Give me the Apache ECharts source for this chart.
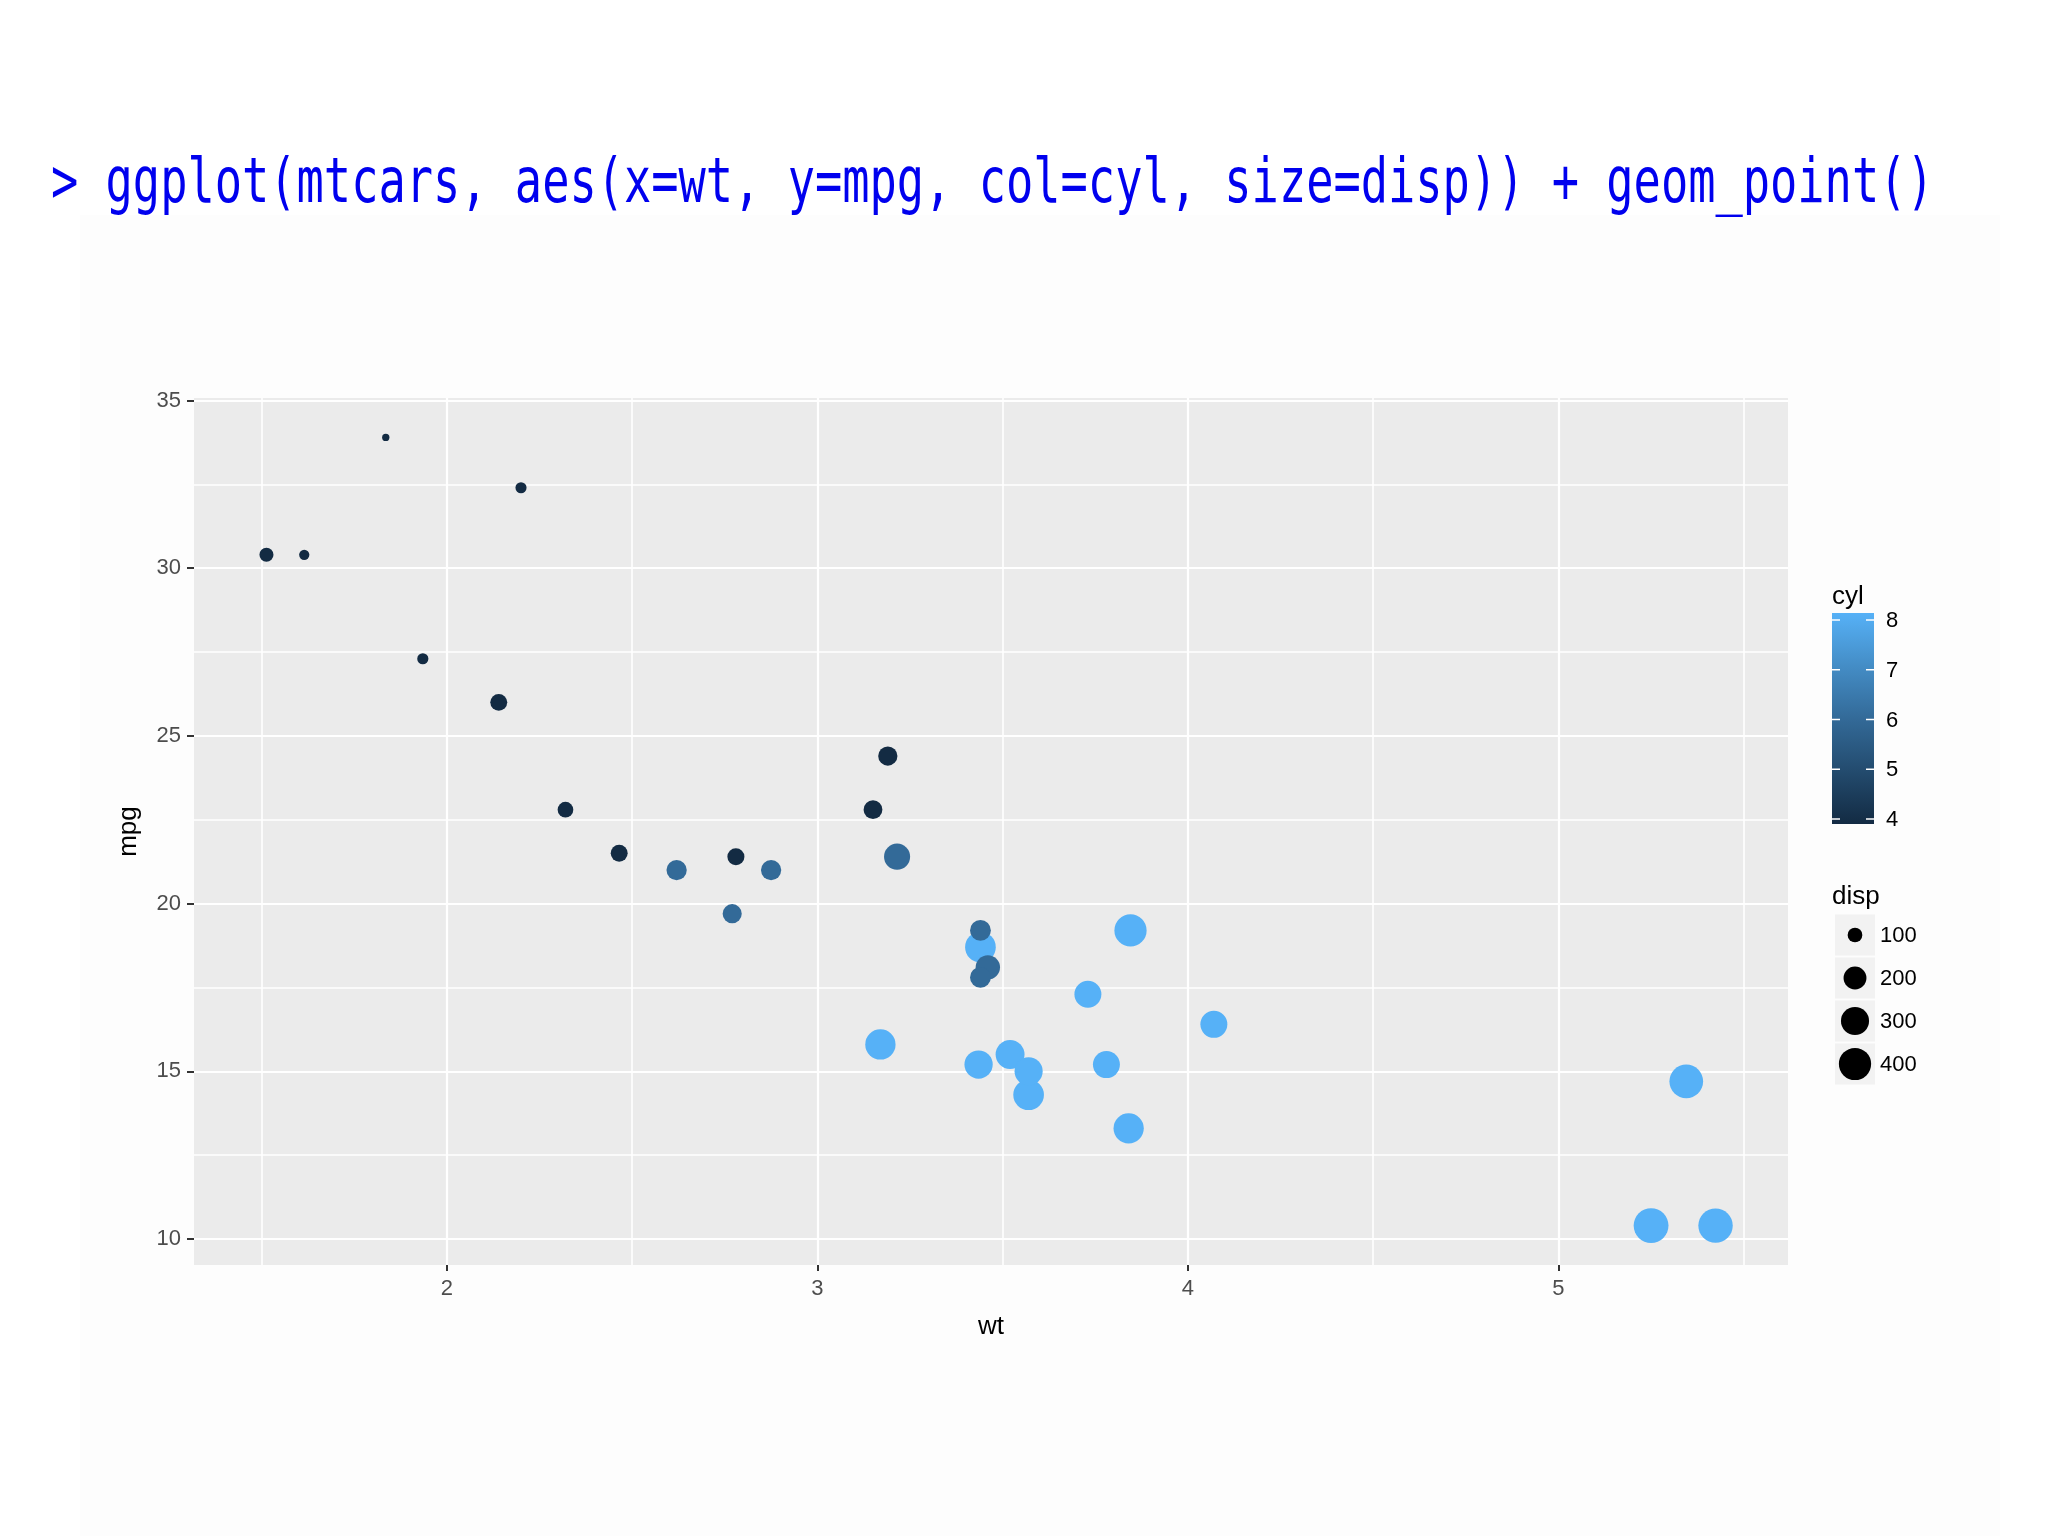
<!DOCTYPE html>
<html>
<head>
<meta charset="utf-8">
<script src="https://cdn.jsdelivr.net/npm/echarts@6/dist/echarts.min.js"></script>
<style>
html,body{margin:0;padding:0;background:#ffffff;}
#chart{width:2048px;height:1536px;}
</style>
</head>
<body>
<div id="chart"></div>
<script>
// mtcars columns (row order as in the data set)
var wt   = [2.620, 2.875, 2.320, 3.215, 3.440, 3.460, 3.570, 3.190, 3.150, 3.440, 3.440, 4.070, 3.730, 3.780, 5.250, 5.424, 5.345, 2.200, 1.615, 1.835, 2.465, 3.520, 3.435, 3.840, 3.845, 1.935, 2.140, 1.513, 3.170, 2.770, 3.570, 2.780];
var mpg  = [21.0, 21.0, 22.8, 21.4, 18.7, 18.1, 14.3, 24.4, 22.8, 19.2, 17.8, 16.4, 17.3, 15.2, 10.4, 10.4, 14.7, 32.4, 30.4, 33.9, 21.5, 15.5, 15.2, 13.3, 19.2, 27.3, 26.0, 30.4, 15.8, 19.7, 15.0, 21.4];
var cyl  = [6, 6, 4, 6, 8, 6, 8, 4, 4, 6, 6, 8, 8, 8, 8, 8, 8, 4, 4, 4, 4, 8, 8, 8, 8, 4, 4, 4, 8, 6, 8, 4];
var disp = [160, 160, 108, 258, 360, 225, 360, 146.7, 140.8, 167.6, 167.6, 275.8, 275.8, 275.8, 472, 460, 440, 78.7, 75.7, 71.1, 120.1, 318, 304, 350, 400, 79, 120.3, 95.1, 351, 145, 301, 121];

var xTicks = [2, 3, 4, 5];
var xMinor = [1.5, 2.5, 3.5, 4.5, 5.5];
var yTicks = [10, 15, 20, 25, 30, 35];
var yMinor = [12.5, 17.5, 22.5, 27.5, 32.5];
var cylTicks = [4, 5, 6, 7, 8];
var dispBreaks = [100, 200, 300, 400];
var titleText = '> ggplot(mtcars, aes(x=wt, y=mpg, col=cyl, size=disp)) + geom_point()';

// ----- scales -----
function expand(arr) {
  var lo = Math.min.apply(null, arr), hi = Math.max.apply(null, arr);
  var pad = (hi - lo) * 0.05;
  return [lo - pad, hi + pad];
}
var xr = expand(wt), yr = expand(mpg);
var dMin = Math.min.apply(null, disp), dMax = Math.max.apply(null, disp);
function sizeOf(d) { // ggplot area scale, range 1..6, plus stroke
  var t = (d - dMin) / (dMax - dMin);
  t = Math.max(0, Math.min(1, t));
  return 5.5 * (1 + 5 * Math.sqrt(t) + 0.33);
}
var cylColors = ['#132B43', '#234B6E', '#336A98', '#448DC6', '#56B1F7'];

var data = wt.map(function (w, i) { return [w, mpg[i], cyl[i], disp[i]]; });

// ----- layout -----
var G = {left: 194, top: 398, width: 1594, height: 867};
var LBL = '#4D4D4D', FONT = 'Liberation Sans';

var graphics = [];
graphics.push({type: 'rect', z: -10, shape: {x: 80, y: 215, width: 1920, height: 1321}, style: {fill: '#FDFDFD'}, silent: true});
graphics.push({type: 'text', x: 51, y: 186, scaleX: 0.731, scaleY: 1,
  style: {text: titleText, x: 0, y: 0, fill: '#0000EE', font: 'normal 62px "DejaVu Sans Mono"', verticalAlign: 'middle', align: 'left'}});

// colour bar legend
var cbX = 1832, cbY = 613, cbW = 42, cbH = 211;
var cbT4 = 819, cbT8 = 620;
graphics.push({type: 'text', x: cbX, y: 597, style: {text: 'cyl', fill: '#000', font: '26px "Liberation Sans"', verticalAlign: 'middle', align: 'left'}});
var stops = cylColors.map(function (c, i) { return {offset: 1 - i / (cylColors.length - 1), color: c}; });
graphics.push({type: 'rect', shape: {x: cbX, y: cbY, width: cbW, height: cbH},
  style: {fill: new echarts.graphic.LinearGradient(0, 0, 0, 1, stops.reverse())}});
cylTicks.forEach(function (v) {
  var yy = cbT4 + (cbT8 - cbT4) * (v - 4) / 4;
  graphics.push({type: 'line', shape: {x1: cbX, y1: yy, x2: cbX + 8, y2: yy}, style: {stroke: '#fff', lineWidth: 1.5}});
  graphics.push({type: 'line', shape: {x1: cbX + cbW - 8, y1: yy, x2: cbX + cbW, y2: yy}, style: {stroke: '#fff', lineWidth: 1.5}});
  graphics.push({type: 'text', x: 1886, y: yy + 1, style: {text: String(v), fill: '#000', font: '22px "Liberation Sans"', verticalAlign: 'middle', align: 'left'}});
});

// size legend
graphics.push({type: 'text', x: 1832, y: 897, style: {text: 'disp', fill: '#000', font: '26px "Liberation Sans"', verticalAlign: 'middle', align: 'left'}});
var keyCenters = [935, 978, 1021, 1064];
dispBreaks.forEach(function (v, i) {
  var cy = keyCenters[i];
  graphics.push({type: 'rect', shape: {x: 1835, y: cy - 20.5, width: 40, height: 41}, style: {fill: '#F2F2F2'}});
  graphics.push({type: 'circle', shape: {cx: 1855, cy: cy, r: sizeOf(v) / 2}, style: {fill: '#000'}});
  graphics.push({type: 'text', x: 1880, y: cy + 1, style: {text: String(v), fill: '#000', font: '22px "Liberation Sans"', verticalAlign: 'middle', align: 'left'}});
});

var chart = echarts.init(document.getElementById('chart'), null, {renderer: 'canvas'});
chart.setOption({
  animation: false,
  backgroundColor: '#ffffff',
  grid: {left: G.left, top: G.top, width: G.width, height: G.height, show: true, backgroundColor: '#EBEBEB', borderWidth: 0},
  xAxis: [
    {type: 'value', min: xr[0], max: xr[1], position: 'bottom',
      axisLine: {show: false},
      axisTick: {show: false, customValues: xMinor},
      axisLabel: {show: false, customValues: xMinor},
      splitLine: {show: true, lineStyle: {color: '#ffffff', width: 1.6}}},
    {type: 'value', min: xr[0], max: xr[1], position: 'bottom',
      name: 'wt', nameLocation: 'middle', nameGap: 49,
      nameTextStyle: {color: '#000', fontSize: 26, fontFamily: FONT},
      axisLine: {show: false},
      axisTick: {show: true, length: 6, customValues: xTicks, lineStyle: {color: '#333333', width: 2}},
      axisLabel: {show: true, customValues: xTicks, color: LBL, fontSize: 22, fontFamily: FONT, margin: 13},
      splitLine: {show: true, lineStyle: {color: '#ffffff', width: 2.2}}}
  ],
  yAxis: [
    {type: 'value', min: yr[0], max: yr[1], position: 'left',
      axisLine: {show: false},
      axisTick: {show: false, customValues: yMinor},
      axisLabel: {show: false, customValues: yMinor},
      splitLine: {show: true, lineStyle: {color: '#ffffff', width: 1.6}}},
    {type: 'value', min: yr[0], max: yr[1], position: 'left',
      name: 'mpg', nameLocation: 'middle', nameGap: 52, nameRotate: 90,
      nameTextStyle: {color: '#000', fontSize: 26, fontFamily: FONT},
      axisLine: {show: false},
      axisTick: {show: true, length: 7, customValues: yTicks, lineStyle: {color: '#333333', width: 2}},
      axisLabel: {show: true, customValues: yTicks, color: LBL, fontSize: 22, fontFamily: FONT, margin: 13},
      splitLine: {show: true, lineStyle: {color: '#ffffff', width: 2.2}}}
  ],
  visualMap: {type: 'continuous', show: false, dimension: 2, min: 4, max: 8, seriesIndex: 0,
    inRange: {color: cylColors}},
  series: [{
    type: 'scatter', xAxisIndex: 1, yAxisIndex: 1, silent: true,
    data: data,
    symbol: 'circle',
    symbolSize: function (v) { return sizeOf(v[3]); },
    itemStyle: {opacity: 1}
  }],
  graphic: graphics
});
</script>
</body>
</html>
